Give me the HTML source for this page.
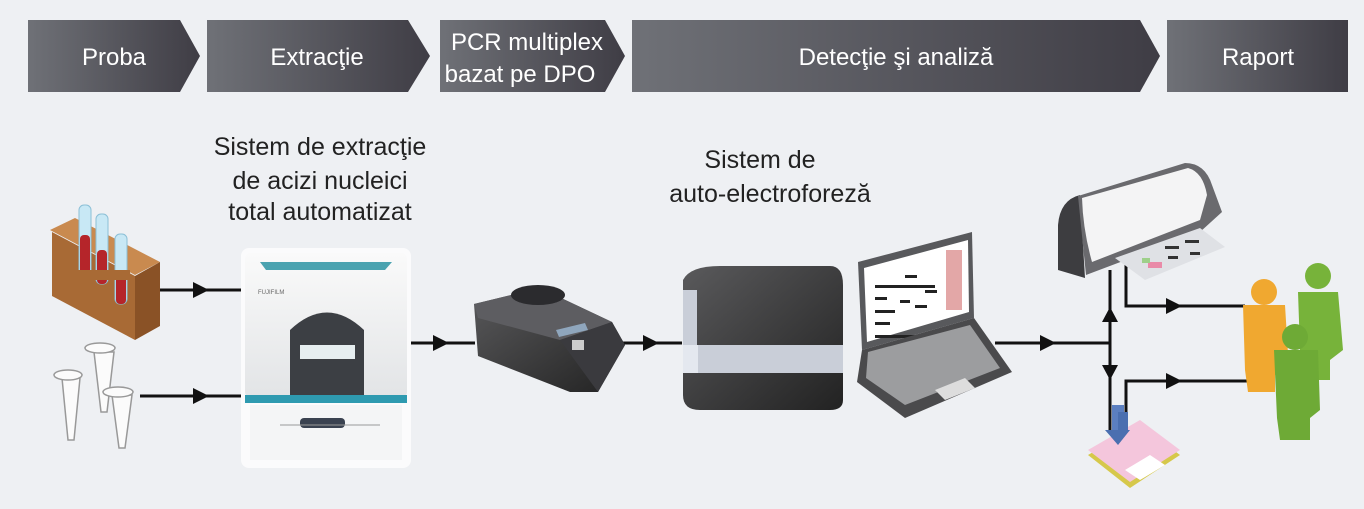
<!DOCTYPE html>
<html><head><meta charset="utf-8"><style>
html,body{margin:0;padding:0;background:#eef0f3;}
svg{display:block;font-family:"Liberation Sans",sans-serif;}
</style></head><body>
<svg width="1364" height="509" viewBox="0 0 1364 509" xmlns="http://www.w3.org/2000/svg">
<defs>
<linearGradient id="hg" x1="0" x2="1" y1="0" y2="0"><stop offset="0" stop-color="#6f7177"/><stop offset="1" stop-color="#3f3d45"/></linearGradient>
<linearGradient id="dk" x1="0" x2="1" y1="0" y2="1"><stop offset="0" stop-color="#5a5a5c"/><stop offset="1" stop-color="#222"/></linearGradient>
<linearGradient id="wt" x1="0" x2="0" y1="0" y2="1"><stop offset="0" stop-color="#fafafa"/><stop offset="1" stop-color="#e2e4e6"/></linearGradient>
</defs>
<rect width="1364" height="509" fill="#eef0f3"/>
<polygon points="28,20 180,20 200,56 180,92 28,92" fill="url(#hg)"/>
<polygon points="207,20 408,20 430,56 408,92 207,92" fill="url(#hg)"/>
<polygon points="440,20 605,20 625,56 605,92 440,92" fill="url(#hg)"/>
<polygon points="632,20 1140,20 1160,56 1140,92 632,92" fill="url(#hg)"/>
<polygon points="1167,20 1348,20 1348,92 1167,92" fill="url(#hg)"/>
<g fill="#fff" font-size="24" text-anchor="middle">
<text x="114" y="65">Proba</text>
<text x="317" y="65">Extracţie</text>
<text x="527" y="50">PCR multiplex</text>
<text x="520" y="82">bazat pe DPO</text>
<text x="896" y="65">Detecţie şi analiză</text>
<text x="1258" y="65">Raport</text>
</g>
<g fill="#222" font-size="25" text-anchor="middle">
<text x="320" y="155">Sistem de extracţie</text>
<text x="320" y="189">de acizi nucleici</text>
<text x="320" y="220">total automatizat</text>
<text x="760" y="168">Sistem de</text>
<text x="770" y="202">auto-electroforeză</text>
</g>
<g stroke="#111" stroke-width="3" fill="none">
<line x1="160" y1="290" x2="243" y2="290"/>
<line x1="140" y1="396" x2="243" y2="396"/>
<line x1="408" y1="343" x2="475" y2="343"/>
<line x1="620" y1="343" x2="682" y2="343"/>
<line x1="995" y1="343" x2="1110" y2="343"/>
<line x1="1110" y1="270" x2="1110" y2="430"/>
<polyline points="1126,265 1126,306 1245,306"/>
<polyline points="1126,430 1126,381 1262,381"/>
</g>
<g fill="#111">
<polygon points="193,282 209,290 193,298"/>
<polygon points="193,388 209,396 193,404"/>
<polygon points="433,335 449,343 433,351"/>
<polygon points="643,335 659,343 643,351"/>
<polygon points="1040,335 1056,343 1040,351"/>
<polygon points="1102,322 1110,307 1118,322"/>
<polygon points="1102,365 1110,380 1118,365"/>
<polygon points="1166,298 1182,306 1166,314"/>
<polygon points="1166,373 1182,381 1166,389"/>
</g>
<polygon points="50,230 75,218 160,262 135,275" fill="#c98a4f"/>
<polygon points="52,232 135,276 135,340 52,296" fill="#a86a35"/>
<polygon points="135,276 160,262 160,326 135,340" fill="#8a5226"/>
<g fill="#c8e8f5" stroke="#8bbfd6" stroke-width="1">
<rect x="79" y="205" width="12" height="70" rx="5"/><rect x="96" y="214" width="12" height="70" rx="5"/><rect x="115" y="234" width="12" height="70" rx="5"/>
</g>
<g fill="#b5252a"><rect x="80" y="235" width="10" height="40" rx="4"/><rect x="97" y="250" width="10" height="34" rx="4"/><rect x="116" y="270" width="10" height="34" rx="4"/></g>
<rect x="60" y="270" width="70" height="10" fill="#a86a35"/>
<g fill="#fbfbfb" stroke="#999" stroke-width="1.5">
<path d="M62,378 L80,378 L74,440 L68,440z"/><ellipse cx="68" cy="375" rx="14" ry="5"/>
<path d="M94,352 L114,352 L107,412 L101,412z"/><ellipse cx="100" cy="348" rx="15" ry="5"/>
<path d="M112,395 L132,395 L125,448 L119,448z"/><ellipse cx="118" cy="392" rx="15" ry="5"/>
</g>
<rect x="241" y="248" width="170" height="220" rx="8" fill="#fbfbfc"/>
<rect x="245" y="253" width="162" height="145" rx="6" fill="url(#wt)"/>
<path d="M260,262 L392,262 L385,270 L266,270z" fill="#4aa3b0"/>
<path d="M290,395 L290,330 Q327,295 364,330 L364,395z" fill="#3c3f44"/>
<rect x="300" y="345" width="55" height="14" fill="#e6eef0"/>
<rect x="245" y="395" width="162" height="8" fill="#2e9ab0"/>
<rect x="250" y="405" width="152" height="55" fill="#f4f5f6"/>
<rect x="300" y="418" width="45" height="10" rx="4" fill="#3a4250"/>
<line x1="280" y1="425" x2="380" y2="425" stroke="#999" stroke-width="1"/>
<text x="258" y="294" font-size="6" fill="#666">FUJIFILM</text>
<polygon points="474,304 540,288 612,322 625,345 598,392 570,392 478,356" fill="url(#dk)"/>
<polygon points="474,304 540,288 612,322 560,340 478,318" fill="#5d5d61"/>
<polygon points="560,340 612,322 625,345 598,392" fill="#3a3a3e"/>
<ellipse cx="538" cy="295" rx="27" ry="10" fill="#2b2b2e"/>
<polygon points="556,330 585,323 588,330 559,337" fill="#8fa6bd"/>
<rect x="572" y="340" width="12" height="10" fill="#ccc"/>
<path d="M683,280 Q690,266 720,266 L830,266 Q843,266 843,285 L843,400 Q843,410 830,410 L700,410 Q683,410 683,395z" fill="url(#dk)"/>
<rect x="683" y="345" width="160" height="28" fill="#c9ced8"/>
<rect x="683" y="345" width="15" height="28" fill="#e4e8ef"/>
<path d="M683,290 L697,290 L697,345 L683,345z" fill="#c9ced8"/>
<polygon points="858,262 972,232 974,318 862,350" fill="#58595c"/>
<polygon points="864,268 968,240 969,312 867,342" fill="#fff"/>
<g fill="#222"><rect x="875" y="285" width="60" height="3"/><rect x="875" y="297" width="12" height="3"/><rect x="900" y="300" width="10" height="3"/><rect x="875" y="310" width="20" height="3"/><rect x="915" y="305" width="12" height="3"/><rect x="875" y="322" width="15" height="3"/><rect x="875" y="335" width="60" height="3"/><rect x="905" y="275" width="12" height="3"/><rect x="925" y="290" width="12" height="3"/></g>
<rect x="946" y="250" width="16" height="60" fill="#e3a7a7"/>
<polygon points="862,350 974,318 1012,372 905,418 857,382" fill="#4a4a4c"/>
<polygon points="868,352 970,325 1000,368 905,405 866,378" fill="#9c9d9f"/>
<polygon points="935,390 965,378 975,388 945,400" fill="#ddd"/>
<!-- printer -->
<path d="M1058,225 Q1060,200 1080,195 L1085,278 L1058,270z" fill="#3d3d40"/>
<path d="M1078,196 L1185,163 Q1205,163 1212,185 L1222,212 L1200,232 L1086,275z" fill="#6a6a6e"/>
<path d="M1082,198 L1188,168 Q1203,172 1207,195 L1200,220 L1092,262 Q1083,230 1082,198z" fill="#f4f4f5"/>
<polygon points="1115,258 1200,228 1225,247 1145,280" fill="#dfe1e5"/>
<g fill="#333"><rect x="1165" y="246" width="14" height="3"/><rect x="1185" y="240" width="14" height="3"/><rect x="1168" y="256" width="10" height="3"/><rect x="1190" y="252" width="10" height="3"/></g>
<rect x="1148" y="262" width="14" height="6" fill="#e98aa8"/>
<rect x="1142" y="258" width="8" height="5" fill="#9ed08a"/>
<g fill="#77b33a"><circle cx="1318" cy="276" r="13"/><path d="M1298,292 L1338,292 L1343,350 L1330,360 L1330,380 L1305,380 L1300,350z"/></g>
<g fill="#f0a830"><circle cx="1264" cy="292" r="13"/><path d="M1243,305 L1285,305 L1289,370 L1275,375 L1275,392 L1248,392 L1245,370z"/></g>
<g fill="#6eaa36"><circle cx="1295" cy="337" r="13"/><path d="M1274,350 L1318,350 L1320,410 L1310,418 L1310,440 L1280,440 L1277,418z"/></g>
<polygon points="1088,455 1140,425 1180,455 1130,488" fill="#d6c84a"/>
<polygon points="1088,450 1140,420 1180,450 1130,482" fill="#f4c6dc"/>
<polygon points="1125,470 1150,455 1165,465 1140,480" fill="#fff"/>
<rect x="1112" y="405" width="12" height="30" fill="#5b7fc0"/>
<rect x="1118" y="412" width="10" height="18" fill="#4a6fb0"/>
<polygon points="1105,430 1130,430 1118,445" fill="#4a6fb0"/>
</svg>
</body></html>
